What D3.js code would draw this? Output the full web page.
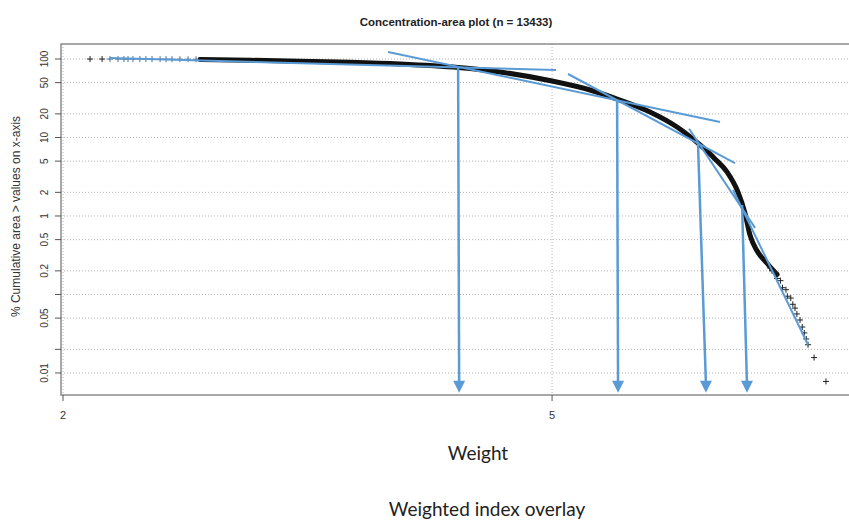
<!DOCTYPE html>
<html>
<head>
<meta charset="utf-8">
<script src="https://cdn.jsdelivr.net/npm/d3@7"></script>
<style>
  body { margin: 0; background: #fff; }
  svg { display: block; }
</style>
</head>
<body>
<div id="chart"></div>
<script>
// curve: weight vs % cumulative area
const curveWeight = [2.585, 2.839, 3.118, 3.425, 3.761, 4.193, 4.535, 5.0, 5.369, 5.648, 6.007, 6.319, 6.597, 6.785, 6.939, 7.083, 7.177, 7.245, 7.341, 7.479, 7.621];
const curvePct = [98.5, 96.3, 93.8, 90.8, 86.3, 77.9, 68.3, 52.4, 40.3, 30.9, 21.15, 13.6, 8.03, 5.34, 3.64, 2.02, 1.09, 0.57, 0.36, 0.25, 0.18];

// sparse "+" points at both ends
const markWeight = [2.104, 2.152, 2.184, 2.217, 2.242, 2.259, 2.28, 2.31, 2.336, 2.363, 2.399, 2.426, 2.453, 2.49, 2.528, 2.566,
  7.52, 7.55, 7.6, 7.621, 7.67, 7.7, 7.75, 7.77, 7.82, 7.85, 7.882, 7.91, 7.957, 7.99, 8.02, 8.05, 8.077, 8.169, 8.353];
const markPct = [99.9, 99.9, 99.8, 99.8, 99.8, 99.8, 99.8, 99.7, 99.7, 99.7, 99.6, 99.6, 99.5, 99.5, 99.4, 99.2,
  0.218, 0.2, 0.19, 0.16, 0.15, 0.122, 0.115, 0.095, 0.09, 0.075, 0.067, 0.0565, 0.0473, 0.0385, 0.0324, 0.0271, 0.0229, 0.0157, 0.0078];

// fitted straight segments (start / end)
const segW0 = [2.184, 3.677, 5.152, 6.463, 7.018];
const segP0 = [103, 122.8, 64.4, 12.9, 2.15];
const segW1 = [5.037, 6.849, 7.044, 7.314, 8.077];
const segP1 = [72.4, 15.8, 4.72, 0.705, 0.0229];

// threshold arrows
const arrowTopW = [4.193, 5.648, 6.572, 7.138];
const arrowTopP = [76.8, 30.1, 8.5, 1.38];
const arrowBotW = [4.201, 5.658, 6.671, 7.204];
const arrowBotP = 0.0056;

const yTicks = [100, 50, 20, 10, 5, 2, 1, 0.5, 0.2, 0.1, 0.05, 0.02, 0.01];
const yLabels = ['100', '50', '20', '10', '5', '2', '1', '0.5', '0.2', '', '0.05', '', '0.01'];
const xTicks = [2, 5];

const width = 849, height = 523;
const box = { left: 61, right: 851, top: 44, bottom: 395 };
const blue = '#5b9bd5';

const svg = d3.select('#chart').append('svg')
  .attr('width', width).attr('height', height);

const x = d3.scaleLog().domain([1.9925, 8.754]).range([box.left, box.right]);
const y = d3.scaleLog().domain([0.00524, 155.3]).range([box.bottom, box.top]);

// grid
svg.append('g').selectAll('line').data(yTicks).join('line')
  .attr('x1', box.left).attr('x2', box.right)
  .attr('y1', d => y(d)).attr('y2', d => y(d))
  .attr('stroke', '#b5b5b5').attr('stroke-dasharray', '1,2');
svg.append('g').selectAll('line').data(xTicks).join('line')
  .attr('x1', d => x(d)).attr('x2', d => x(d))
  .attr('y1', box.top).attr('y2', box.bottom)
  .attr('stroke', '#b5b5b5').attr('stroke-dasharray', '1,2');

// frame
svg.append('rect')
  .attr('x', box.left).attr('y', box.top)
  .attr('width', box.right - box.left).attr('height', box.bottom - box.top)
  .attr('fill', 'none').attr('stroke', '#8c8c8c').attr('stroke-width', 1.5);

// y axis
const yAxis = svg.append('g').attr('transform', `translate(${box.left},0)`);
yAxis.selectAll('line').data(yTicks).join('line')
  .attr('x1', -6).attr('x2', 0)
  .attr('y1', d => y(d)).attr('y2', d => y(d))
  .attr('stroke', '#555');
yAxis.selectAll('text').data(yTicks).join('text')
  .attr('transform', d => `translate(-17,${y(d)}) rotate(-90)`)
  .attr('text-anchor', 'middle')
  .attr('dy', '0.35em')
  .style('font', '10px "Liberation Sans", Arial, sans-serif')
  .attr('fill', '#333')
  .text((d, i) => yLabels[i]);

// x axis
const xAxis = svg.append('g').attr('transform', `translate(0,${box.bottom})`);
xAxis.selectAll('line').data(xTicks).join('line')
  .attr('x1', d => x(d)).attr('x2', d => x(d))
  .attr('y1', 0).attr('y2', 6)
  .attr('stroke', '#555');
xAxis.selectAll('text').data(xTicks).join('text')
  .attr('x', d => x(d)).attr('y', 24)
  .attr('text-anchor', 'middle')
  .style('font', '11px "Liberation Sans", Arial, sans-serif')
  .attr('fill', '#333')
  .text(d => d);

// titles
svg.append('text')
  .attr('x', 456).attr('y', 26)
  .attr('text-anchor', 'middle')
  .style('font', 'bold 11.5px "Liberation Sans", Arial, sans-serif')
  .attr('fill', '#222')
  .text('Concentration-area plot (n = 13433)');

svg.append('text')
  .attr('transform', `translate(20,${(box.top + box.bottom) / 2 - 3}) rotate(-90)`)
  .attr('text-anchor', 'middle')
  .style('font', '12px "Liberation Sans", Arial, sans-serif')
  .attr('fill', '#333')
  .text('% Cumulative area > values on x-axis');

svg.append('text')
  .attr('x', 478).attr('y', 460)
  .attr('text-anchor', 'middle')
  .style('font', '19px Lato, "Open Sans", sans-serif')
  .attr('fill', '#222')
  .text('Weight');

svg.append('text')
  .attr('x', 487).attr('y', 516)
  .attr('text-anchor', 'middle')
  .style('font', '19px Lato, "Open Sans", sans-serif')
  .attr('fill', '#222')
  .text('Weighted index overlay');

// curve band
const curve = curveWeight.map((w, i) => [w, curvePct[i]]);
const line = d3.line().x(d => x(d[0])).y(d => y(d[1])).curve(d3.curveMonotoneX);
svg.append('path')
  .datum(curve)
  .attr('d', line)
  .attr('fill', 'none').attr('stroke', '#111')
  .attr('stroke-width', 5).attr('stroke-linejoin', 'round').attr('stroke-linecap', 'round');

// + markers
const plus = (cx, cy, r) => `M${cx - r},${cy}H${cx + r}M${cx},${cy - r}V${cy + r}`;
svg.append('g').selectAll('path').data(markWeight).join('path')
  .attr('d', (w, i) => plus(x(w), y(markPct[i]), 3))
  .attr('stroke', (w, i) => i > 1 && i < 16 ? '#4f6f8f' : '#222')
  .attr('stroke-width', 1);

// fitted segments
svg.append('g').selectAll('line').data(segW0).join('line')
  .attr('x1', d => x(d)).attr('y1', (d, i) => y(segP0[i]))
  .attr('x2', (d, i) => x(segW1[i])).attr('y2', (d, i) => y(segP1[i]))
  .attr('stroke', blue).attr('stroke-width', 2);

// arrows
const arrows = svg.append('g');
arrowTopW.forEach((w, i) => {
  const x0 = x(w), y0 = y(arrowTopP[i]);
  const x1 = x(arrowBotW[i]), y1 = y(arrowBotP);
  arrows.append('line')
    .attr('x1', x0).attr('y1', y0).attr('x2', x1).attr('y2', y1 - 8)
    .attr('stroke', blue).attr('stroke-width', 2.5);
  arrows.append('path')
    .attr('d', `M${x1 - 6},${y1 - 12}L${x1 + 6},${y1 - 12}L${x1},${y1}Z`)
    .attr('fill', blue);
});
</script>
</body>
</html>
